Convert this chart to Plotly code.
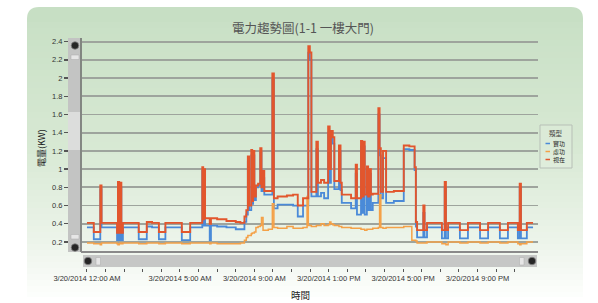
import plotly.graph_objects as go

# ---------------- data ----------------
times = ["00:00", "00:22", "00:43", "00:47", "01:37", "01:40", "01:44", "01:47", "01:51", "01:56",
         "02:47", "03:13", "03:30", "03:52", "04:13", "05:06", "05:33", "06:12", "06:15", "06:18",
         "06:21", "06:36", "06:40", "07:00", "07:30", "08:00", "08:15", "08:28", "08:34", "08:39",
         "08:43", "08:50", "08:53", "08:56", "09:00", "09:05", "09:12", "09:19", "09:23", "09:28",
         "09:32", "09:45", "09:58", "10:03", "10:15", "10:45", "11:05", "11:20", "11:37", "11:50",
         "11:54", "11:59", "12:04", "12:20", "12:25", "12:35", "12:45", "12:58", "13:03", "13:07",
         "13:13", "13:18", "13:33", "13:38", "13:42", "14:12", "14:27", "14:31", "14:44", "14:48",
         "14:52", "14:56", "15:03", "15:07", "15:12", "15:16", "15:22", "15:40", "15:44", "15:48",
         "15:55", "16:05", "16:30", "17:02", "17:20", "17:28", "17:37", "17:41", "17:45", "18:05",
         "18:09", "18:17", "19:05", "19:14", "19:18", "19:25", "20:03", "20:29", "21:08", "21:34",
         "22:12", "22:38", "23:10", "23:16", "23:20", "23:39", "23:59"]

blue = [0.36, 0.23, 0.78, 0.36, 0.22, 0.82, 0.22, 0.80, 0.22, 0.36,
        0.23, 0.37, 0.36, 0.23, 0.36, 0.22, 0.36, 0.98, 0.38, 0.95,
        0.38, 0.22, 0.38, 0.37, 0.36, 0.34, 0.34, 0.42, 0.50, 1.08,
        0.55, 1.15, 0.62, 1.15, 0.66, 0.80, 0.82, 1.18, 0.76, 0.90,
        0.72, 0.72, 1.98, 0.57, 0.61, 0.61, 0.60, 0.48, 0.60, 0.60,
        2.28, 2.20, 0.70, 1.22, 0.70, 0.74, 0.68, 1.40, 0.85, 1.35,
        1.28, 0.78, 1.20, 0.77, 0.63, 0.57, 0.95, 0.50, 1.25, 0.52,
        1.25, 0.50, 0.98, 0.55, 0.95, 0.55, 0.63, 1.60, 1.15, 0.68,
        1.12, 0.63, 0.65, 1.22, 1.21, 1.21, 0.99, 0.37, 0.25, 0.52,
        0.25, 0.36, 0.24, 0.80, 0.24, 0.36, 0.24, 0.36, 0.24, 0.36,
        0.24, 0.36, 0.24, 0.80, 0.24, 0.36, 0.36]

orange = [0.19, 0.18, 0.17, 0.19, 0.18, 0.17, 0.18, 0.19, 0.18, 0.19,
          0.18, 0.19, 0.19, 0.18, 0.19, 0.18, 0.19, 0.19, 0.19, 0.19,
          0.19, 0.18, 0.19, 0.18, 0.18, 0.18, 0.19, 0.22, 0.25, 0.27,
          0.27, 0.29, 0.30, 0.30, 0.31, 0.36, 0.37, 0.38, 0.47, 0.33,
          0.33, 0.34, 0.62, 0.36, 0.35, 0.37, 0.35, 0.35, 0.36, 0.70,
          0.38, 0.38, 0.37, 0.38, 0.38, 0.40, 0.38, 0.39, 0.42, 0.40,
          0.39, 0.38, 0.37, 0.37, 0.36, 0.35, 0.35, 0.35, 0.34, 0.34,
          0.34, 0.33, 0.34, 0.34, 0.34, 0.34, 0.35, 0.36, 0.72, 0.36,
          0.35, 0.36, 0.36, 0.37, 0.37, 0.22, 0.22, 0.21, 0.19, 0.19,
          0.19, 0.20, 0.18, 0.18, 0.17, 0.20, 0.19, 0.20, 0.19, 0.20,
          0.19, 0.20, 0.18, 0.17, 0.18, 0.20, 0.20]

red = [0.41, 0.31, 0.82, 0.41, 0.30, 0.86, 0.30, 0.85, 0.30, 0.41,
       0.31, 0.42, 0.41, 0.31, 0.41, 0.31, 0.41, 1.02, 0.45, 1.00,
       0.46, 0.40, 0.46, 0.45, 0.43, 0.42, 0.41, 0.48, 0.55, 1.14,
       0.60, 1.21, 0.65, 1.20, 0.70, 0.82, 0.84, 1.23, 0.80, 0.98,
       0.76, 0.76, 2.05, 0.68, 0.70, 0.71, 0.72, 0.60, 0.68, 0.68,
       2.35, 2.28, 0.75, 1.30, 0.85, 0.88, 0.85, 1.47, 1.00, 1.42,
       1.35, 0.87, 1.26, 0.85, 0.72, 0.68, 1.05, 0.68, 1.31, 0.70,
       1.30, 0.72, 1.03, 0.70, 1.00, 0.72, 0.73, 1.67, 1.23, 0.75,
       1.20, 0.75, 0.76, 1.26, 1.25, 1.25, 1.02, 0.42, 0.33, 0.60,
       0.33, 0.41, 0.33, 0.86, 0.33, 0.41, 0.33, 0.41, 0.33, 0.41,
       0.33, 0.41, 0.33, 0.84, 0.33, 0.41, 0.41]

series_names = ["實功", "虛功", "視在"]
series_colors = ["#4a8ad8", "#f4a148", "#e2562d"]
legend_title = "類型"

day = "2014-03-20"
x_tick_times = ["00:00", "05:00", "09:00", "13:00", "17:00", "21:00"]
x_tick_text = ["3/20/2014 12:00 AM", "3/20/2014 5:00 AM", "3/20/2014 9:00 AM",
               "3/20/2014 1:00 PM", "3/20/2014 5:00 PM", "3/20/2014 9:00 PM"]
hour_ticks = ["%02d:00" % h for h in range(24)]

title_text = "電力趨勢圖(1-1 一樓大門)"
y_title = "電量(KW)"
x_title = "時間"

# ---------------- layout geometry ----------------
W, H = 598, 303
ml, mr, mt, mb = 68, 60, 38, 35
PW, PH = W - ml - mr, H - mt - mb


def px(x):
    return (x - ml) / PW


def py(y):
    return (H - mb - y) / PH


FONT = "Liberation Sans, Arial, Noto Sans CJK TC, sans-serif"
CJK = "Noto Sans CJK TC, sans-serif"

xs = [f"{day} {t}" for t in times]

fig = go.Figure()
for vals, name, col, w in zip([blue, orange, red], series_names, series_colors, [1.8, 1.5, 1.9]):
    fig.add_trace(go.Scatter(x=xs, y=vals, name=name, mode="lines",
                             line=dict(color=col, width=w, shape="hv"), showlegend=False))

shapes = []


def rect(x0, y0, x1, y1, fill, line=None, lw=0, layer="below"):
    d = dict(type="rect", xref="paper", yref="paper", x0=px(x0), x1=px(x1), y0=py(y1), y1=py(y0),
             fillcolor=fill, layer=layer, line=dict(width=lw, color=line or fill))
    shapes.append(d)


def circle(cx, cy, r, fill, layer="above"):
    shapes.append(dict(type="circle", xref="paper", yref="paper", x0=px(cx - r), x1=px(cx + r),
                       y0=py(cy + r), y1=py(cy - r), fillcolor=fill, layer=layer,
                       line=dict(width=0.8, color="#888")))


def lerp(c1, c2, f):
    return tuple(int(round(a + (b - a) * f)) for a, b in zip(c1, c2))


# background panel (gradient)
stops = [(7, (199, 223, 196)), (150, (216, 233, 212)), (240, (236, 244, 234)), (297, (253, 254, 253))]


def color_at(y):
    for (y0, c0), (y1, c1) in zip(stops[:-1], stops[1:]):
        if y0 <= y <= y1:
            return lerp(c0, c1, (y - y0) / (y1 - y0))
    return stops[-1][1]


c = color_at(7)
p = lambda x, y: f"{px(x)},{py(y)}"
shapes.append(dict(type="path", xref="paper", yref="paper", layer="below",
                   path=f"M{p(27, 23)} L{p(27, 19)} Q{p(27, 7)} {p(39, 7)} L{p(571, 7)} Q{p(583, 7)} {p(583, 19)} L{p(583, 23)} Z",
                   fillcolor="rgb(%d,%d,%d)" % c, line=dict(width=0)))
y = 22
while y < 297:
    c = color_at(y + 3)
    rect(27, y, 583, min(y + 6.6, 297), "rgb(%d,%d,%d)" % c)
    y += 6

# vertical scrollbar
rect(68, 38, 80, 252, "#c3c4c3")
rect(68, 112, 80, 150, "#dcdddc")
rect(71, 55, 79, 59.5, "#e6e6e6", "#aaa", 0.5)
rect(71, 234.5, 79, 239, "#e6e6e6", "#aaa", 0.5)
circle(75, 45.5, 3.8, "#262626", "below")
circle(75, 247.5, 3.8, "#262626", "below")
# horizontal scrollbar
rect(83, 255, 537, 267, "#c6c7c6")
rect(96, 257.5, 100.5, 265, "#e6e6e6", "#aaa", 0.5)
rect(519.5, 257.5, 524, 265, "#e6e6e6", "#aaa", 0.5)
circle(88, 261, 3.8, "#262626", "below")
circle(532, 261, 3.8, "#262626", "below")
# plot area edges
shapes.append(dict(type="line", xref="paper", yref="paper", x0=px(81), x1=px(81), y0=py(252), y1=py(38),
                   line=dict(color="#6f6f6f", width=1.6), layer="above"))
shapes.append(dict(type="line", xref="paper", yref="paper", x0=px(81), x1=px(538), y0=py(252), y1=py(252),
                   line=dict(color="#8a8a8a", width=2), layer="above"))

# legend box
rect(540, 125, 572, 168, "rgba(255,255,255,0.12)", "#b7bfb6", 1, "above")
legend_rows = [143.5, 151.5, 159.5]
annotations = [dict(xref="paper", yref="paper", x=px(556), y=py(132.5), text=legend_title, showarrow=False,
                    font=dict(size=6.5, color="#444", family=CJK), xanchor="center", yanchor="middle")]
for ry, name, col in zip(legend_rows, series_names, series_colors):
    shapes.append(dict(type="line", xref="paper", yref="paper", x0=px(545.5), x1=px(550), y0=py(ry), y1=py(ry),
                       line=dict(color=col, width=1.5), layer="above"))
    annotations.append(dict(xref="paper", yref="paper", x=px(551), y=py(ry), text=name, showarrow=False,
                            font=dict(size=6, color="#222", family=CJK), xanchor="left", yanchor="middle"))

annotations.append(dict(xref="paper", yref="paper", x=px(41), y=py(148), text=y_title, textangle=-90,
                        showarrow=False, font=dict(size=9, color="#222", family=CJK),
                        xanchor="center", yanchor="middle"))
annotations.append(dict(xref="paper", yref="paper", x=px(300), y=py(295), text=x_title,
                        showarrow=False, font=dict(size=9.5, color="#222", family=CJK),
                        xanchor="center", yanchor="middle"))

fig.update_layout(
    width=W, height=H,
    margin=dict(l=ml, r=mr, t=mt, b=mb, pad=0),
    paper_bgcolor="white", plot_bgcolor="rgba(0,0,0,0)",
    font=dict(family=FONT, size=7.5, color="#333"),
    title=dict(text=title_text, x=303 / W, xref="container", xanchor="center",
               y=1 - 29 / H, yref="container", yanchor="middle",
               font=dict(size=12.5, color="#555", family=CJK)),
    showlegend=False,
    hovermode=False,
    shapes=shapes,
    annotations=annotations,
    xaxis=dict(
        type="date",
        domain=[px(82), 1],
        anchor="free", position=0,
        range=[f"2014-03-19 23:44", f"2014-03-21 00:15"],
        tickmode="array",
        tickvals=[f"{day} {t}" for t in x_tick_times],
        ticktext=x_tick_text,
        ticks="outside", ticklen=3, tickwidth=1, tickcolor="#555",
        tickfont=dict(size=7.5, color="#333"),
        minor=dict(tickmode="array", tickvals=[f"{day} {t}" for t in hour_ticks],
                   ticks="outside", ticklen=3, tickwidth=1, tickcolor="#555", showgrid=False),
        showgrid=False, zeroline=False, showline=False,
    ),
    yaxis=dict(
        domain=[py(252), 1],
        anchor="free", position=0,
        range=[0.09, 2.44],
        tickmode="linear", tick0=0.2, dtick=0.2,
        ticks="outside", ticklen=4, tickwidth=1.4, tickcolor="#555",
        tickfont=dict(size=7.5, color="#333"),
        showgrid=True, gridcolor="#9ea49d", gridwidth=1.8,
        zeroline=False, showline=False,
    ),
)

fig.write_html("out.html", config={"displayModeBar": False, "staticPlot": True},
               post_script="document.body.style.margin='0';document.body.style.overflow='hidden';")
